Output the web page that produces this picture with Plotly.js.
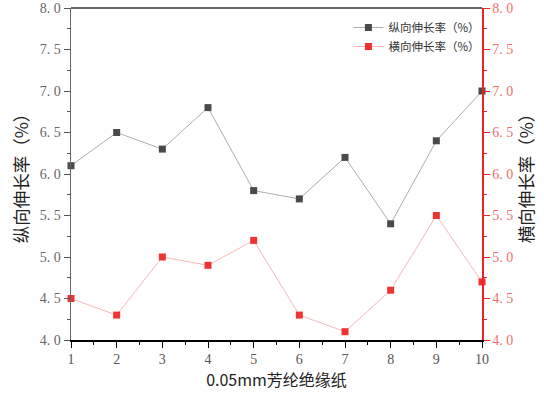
<!DOCTYPE html>
<html><head><meta charset="utf-8">
<script src="https://cdn.plot.ly/plotly-3.0.1.min.js"></script>
<style>html,body{margin:0;padding:0;background:#fff}</style>
</head><body>
<div id="chart" style="width:544px;height:398px"></div>
<script>
const samples = [1,2,3,4,5,6,7,8,9,10];
const longitudinal = [6.1,6.5,6.3,6.8,5.8,5.7,6.2,5.4,6.4,7.0];
const transverse = [4.5,4.3,5.0,4.9,5.2,4.3,4.1,4.6,5.5,4.7];
const yTicks = [4.0,4.5,5.0,5.5,6.0,6.5,7.0,7.5,8.0];
const yTickText = yTicks.map(v => v.toFixed(1).replace('.', '. '));
const xTitle = '0.05mm芳纶绝缘纸';
const y1Title = '纵向伸长率（%）';
const y2Title = '横向伸长率（%）';
const name1 = '纵向伸长率（%）';
const name2 = '横向伸长率（%）';

const FONT = 'Liberation Serif, Noto Sans CJK SC, serif';

const traces = [
  {x: samples, y: longitudinal, name: name1, type: 'scatter', mode: 'lines+markers',
   line: {color: '#8a8a8a', width: 0.7}, marker: {symbol: 'square', size: 7, color: '#4a4a4a'},
   cliponaxis: false},
  {x: samples, y: transverse, name: name2, type: 'scatter', mode: 'lines+markers', yaxis: 'y2',
   line: {color: '#f49a9a', width: 0.7}, marker: {symbol: 'square', size: 7, color: '#ee3333'},
   cliponaxis: false}
];

const layout = {
  width: 544, height: 398,
  margin: {l: 71, r: 62, t: 8, b: 58},
  paper_bgcolor: '#fff', plot_bgcolor: '#fff',
  font: {family: FONT, size: 14, color: '#555'},
  showlegend: true,
  legend: {x: 0.675, y: 0.985, xanchor: 'left', yanchor: 'top', bgcolor: 'rgba(0,0,0,0)',
           font: {size: 11.5, color: '#333', family: 'Noto Sans CJK SC'}, itemwidth: 30, tracegroupgap: 0},
  xaxis: {range: [1, 10], tickvals: samples, ticks: 'outside', ticklen: 6, tickcolor: '#000',
          showline: true, linecolor: '#000', linewidth: 1.5, mirror: false, zeroline: false, showgrid: false,
          minor: {dtick: 0.5, ticks: 'outside', ticklen: 3, tickcolor: '#000'},
          tickfont: {size: 14, color: '#555', family: FONT},
          title: {text: xTitle, font: {size: 16, color: '#222', family: 'Noto Sans CJK SC'}, standoff: 8}},
  yaxis: {range: [4, 8], tickvals: yTicks, ticktext: yTickText, ticks: 'outside', ticklen: 6, tickcolor: '#555',
          showline: true, linecolor: '#666', linewidth: 1.5, zeroline: false, showgrid: false,
          minor: {dtick: 0.25, ticks: 'outside', ticklen: 3, tickcolor: '#555'},
          tickfont: {size: 14, color: '#666', family: FONT},
          title: {text: y1Title, font: {size: 17.5, color: '#222', family: 'Noto Sans CJK SC'}, standoff: 6}},
  yaxis2: {range: [4, 8], overlaying: 'y', side: 'right', tickvals: yTicks, ticktext: yTickText,
          ticks: 'outside', ticklen: 6, tickcolor: '#ee2222',
          showline: true, linecolor: '#ee2222', linewidth: 1.5, zeroline: false, showgrid: false,
          minor: {dtick: 0.25, ticks: 'outside', ticklen: 3, tickcolor: '#ee2222'},
          tickfont: {size: 14, color: '#f07070', family: FONT},
          title: {text: y2Title, font: {size: 17.5, color: '#222', family: 'Noto Sans CJK SC'}, standoff: 6}},
  shapes: [{type: 'line', xref: 'paper', yref: 'paper', x0: 0, x1: 1, y0: 1, y1: 1,
            line: {color: '#333', width: 1.5}}]
};

Plotly.newPlot('chart', traces, layout, {displayModeBar: false, staticPlot: true});
</script>
</body></html>
